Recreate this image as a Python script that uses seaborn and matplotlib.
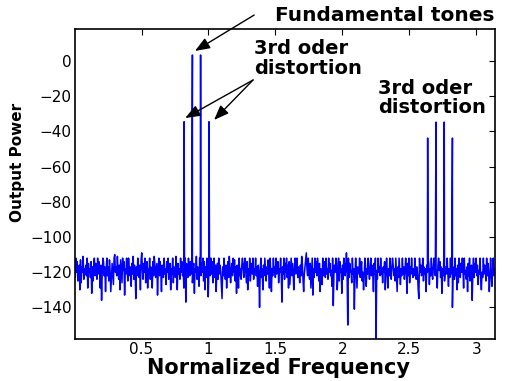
import matplotlib
matplotlib.use("Agg")
import matplotlib.pyplot as plt
import seaborn as sns
import pandas as pd
import numpy as np

# noise floor samples (dB) from left to right, 0..pi
noise_db = [
    -118, -123, -112, -120, -114, -125, -119, -116, -130, -113, -126, -117, -120, -111, -124, -118,
    -121, -116, -122, -112, -129, -115, -120, -118, -123, -114, -132, -117, -125, -116, -112, -122,
    -115, -120, -124, -112, -121, -114, -119, -129, -116, -136, -120, -112, -114, -122, -117, -131,
    -119, -112, -122, -117, -125, -113, -120, -131, -123, -115, -121, -127, -112, -110, -120, -117,
    -122, -111, -119, -124, -116, -130, -113, -120, -126, -112, -119, -114, -133, -118, -121, -112,
    -120, -125, -112, -119, -122, -117, -128, -115, -121, -111, -124, -116, -120, -135, -117, -122,
    -112, -119, -123, -116, -130, -113, -109, -118, -124, -115, -120, -112, -126, -119, -114, -129,
    -118, -121, -112, -124, -117, -120, -129, -114, -122, -111, -116, -123, -119, -115, -133, -120,
    -112, -122, -114, -120, -131, -116, -119, -123, -112, -121, -118, -127, -114, -120, -112, -124,
    -119, -115, -130, -118, -121, -112, -126, -117, -120, -123, -111, -119, -130, -115, -121, -118,
    -124, -112, -120, -114, -122, -118, -129, -117, -112, -137, -115, -120, -123, -112, -119, -122,
    -114, -121, -112, -126, -119, -115, -132, -118, -120, -111, -124, -117, -121, -128, -112, -119,
    -122, -115, -120, -112, -125, -114, -130, -117, -123, -112, -116, -134, -120, -115, -122, -112,
    -121, -114, -126, -117, -112, -123, -116, -131, -122, -115, -124, -112, -121, -116, -120, -127,
    -135, -117, -122, -112, -119, -124, -116, -129, -118, -114, -123, -111, -117, -126, -119, -115,
    -122, -112, -120, -113, -125, -117, -132, -116, -119, -129, -112, -122, -118, -124, -116, -112,
    -117, -123, -115, -112, -119, -126, -114, -130, -118, -122, -112, -125, -119, -115, -121, -112,
    -124, -118, -120, -112, -122, -117, -128, -116, -121, -140, -119, -112, -123, -118, -130, -116,
    -122, -112, -119, -125, -117, -121, -113, -120, -129, -112, -119, -131, -118, -122, -112, -120,
    -117, -123, -112, -121, -119, -114, -126, -118, -120, -112, -122, -137, -117, -121, -112, -124,
    -115, -120, -112, -123, -116, -129, -114, -127, -119, -112, -122, -115, -120, -130, -118, -112,
    -121, -119, -112, -123, -117, -120, -126, -116, -122, -111, -115, -124, -131, -121, -117, -113,
    -109, -118, -122, -112, -120, -124, -115, -129, -121, -112, -133, -118, -123, -112, -120, -114,
    -122, -112, -117, -125, -115, -131, -118, -120, -127, -112, -122, -114, -119, -123, -112, -121,
    -118, -124, -112, -120, -115, -122, -119, -128, -112, -139, -121, -116, -120, -112, -115, -130,
    -122, -112, -125, -114, -120, -118, -132, -116, -124, -112, -115, -122, -118, -109, -121, -150,
    -112, -123, -115, -120, -119, -126, -112, -121, -118, -141, -122, -112, -120, -129, -117, -119,
    -121, -112, -123, -118, -114, -125, -120, -130, -122, -112, -116, -128, -118, -121, -112, -120,
    -124, -117, -112, -122, -116, -120, -131, -115, -121, -112, -158, -119, -124, -112, -120, -117,
    -122, -112, -121, -118, -126, -117, -120, -114, -130, -119, -112, -121, -129, -118, -122, -112,
    -119, -124, -117, -112, -116, -122, -118, -125, -112, -121, -131, -117, -123, -112, -120, -127,
    -118, -122, -112, -121, -117, -124, -119, -112, -120, -132, -115, -122, -112, -126, -117, -121,
    -112, -120, -123, -118, -122, -112, -119, -124, -117, -121, -130, -135, -112, -120, -116, -122,
    -119, -112, -125, -117, -121, -118, -131, -116, -120, -112, -115, -127, -118, -122, -112, -121,
    -124, -117, -112, -115, -122, -118, -120, -129, -116, -112, -119, -114, -123, -117, -132, -118,
    -122, -112, -125, -119, -117, -121, -112, -120, -128, -118, -123, -112, -121, -119, -140, -117,
    -120, -124, -112, -122, -118, -130, -116, -126, -112, -117, -123, -115, -120, -112, -118, -129,
    -112, -121, -119, -124, -117, -131, -115, -122, -112, -125, -119, -116, -136, -121, -112, -123,
    -115, -120, -112, -122, -116, -127, -119, -121, -112, -124, -130, -120, -123, -112, -121, -116,
    -119, -125, -112, -122, -115, -120, -131, -123, -112, -121, -128, -119, -112, -122, -120, -118,
]

# tones: two fundamentals, their 3rd order products near them and near 3x
tone_freq = [0.818, 0.880, 0.941, 1.004, 2.637, 2.699, 2.761, 2.822]
tone_db = [-34.5, 3.4, 3.4, -34.5, -43.8, -34.7, -34.7, -43.8]

y_ticks = [0, -20, -40, -60, -80, -100, -120, -140]
x_ticks = [0.5, 1, 1.5, 2, 2.5, 3]

noise_freq = np.linspace(0, np.pi, len(noise_db))
spec = pd.concat([
    pd.DataFrame({"freq": noise_freq, "power": noise_db}),
    pd.DataFrame({"freq": tone_freq, "power": tone_db}),
]).sort_values("freq")

sns.set_style("white")
plt.rcParams['font.family'] = ['DejaVu Sans']
plt.rcParams.update({"text.color": "black", "axes.labelcolor": "black",
                     "xtick.color": "black", "ytick.color": "black"})

fig = plt.figure(figsize=(5.18, 3.81), dpi=100)
ax = fig.add_axes([0.144, 0.110, 0.812, 0.814])

sns.lineplot(data=spec, x="freq", y="power", ax=ax, color="#0000ff",
             lw=1.1, estimator=None, sort=True)

ax.set_xlim(0, np.pi)
ax.set_ylim(-158, 18.2)
ax.set_xticks(x_ticks)
ax.set_xticklabels(["0.5", "1", "1.5", "2", "2.5", "3"])
ax.set_yticks(y_ticks)
ax.tick_params(direction="in", top=True, right=True, length=4, width=0.8,
               labelsize=11, pad=2)
for s in ax.spines.values():
    s.set_color("black")
    s.set_linewidth(1.2)

ax.set_xlabel("Normalized Frequency", fontsize=15, fontweight="bold")
ax.xaxis.set_label_coords(0.485, -0.062)
ax.set_ylabel("Output Power", fontsize=11, fontweight="bold")
ax.yaxis.set_label_coords(-0.118, 0.571)

arrow = dict(arrowstyle="-|>,head_length=0.9,head_width=0.35", color="black",
             lw=1.0, shrinkA=0, shrinkB=0)

ax.text(1.50, 26.1, "Fundamental tones", ha="left", va="center",
        fontsize=14.5, fontweight="bold", clip_on=False)
ax.annotate("", xy=(0.899, 5.7), xytext=(1.341, 26.1), arrowprops=arrow,
            annotation_clip=False)

ax.text(1.341, 1.4, "3rd oder\ndistortion", ha="left", va="center",
        fontsize=14, fontweight="bold", linespacing=1.1)
ax.annotate("", xy=(0.826, -32.4), xytext=(1.333, -10.8), arrowprops=arrow)
ax.annotate("", xy=(1.042, -33.5), xytext=(1.333, -10.8), arrowprops=arrow)

ax.text(2.268, -21, "3rd oder\ndistortion", ha="left", va="center",
        fontsize=14, fontweight="bold", linespacing=1.0)

fig.savefig("out.png", dpi=100)
